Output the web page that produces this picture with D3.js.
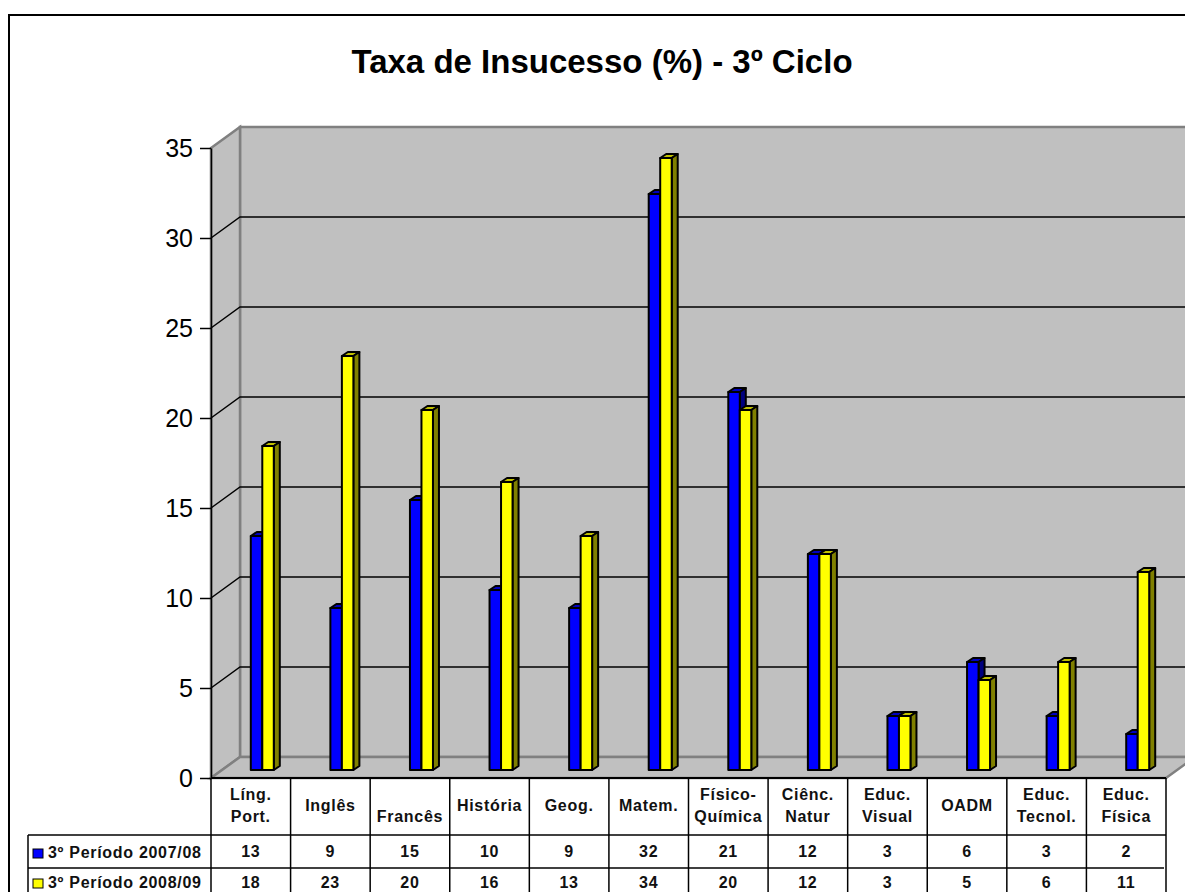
<!DOCTYPE html>
<html>
<head>
<meta charset="utf-8">
<script src="https://cdn.jsdelivr.net/npm/d3@7"></script>
<style>
  body { margin: 0; background: #fff; overflow: hidden; }
  svg { display: block; font-family: "Liberation Sans", Arial, sans-serif; }
</style>
</head>
<body>
<div id="chart"></div>
<script>
// CHART DATA
const categories = ["Líng. Port.", "Inglês", "Francês", "História", "Geog.", "Matem.", "Físico-Química", "Ciênc. Natur", "Educ. Visual", "OADM", "Educ. Tecnol.", "Educ. Física"];
const categoryLines = [["Líng.", "Port."], ["Inglês"], ["", "Francês"], ["História"], ["Geog."], ["Matem."], ["Físico-", "Química"], ["Ciênc.", "Natur"], ["Educ.", "Visual"], ["OADM"], ["Educ.", "Tecnol."], ["Educ.", "Física"]];
const seriesNames = ["3º Período 2007/08", "3º Período 2008/09"];
const values2007 = [13, 9, 15, 10, 9, 32, 21, 12, 3, 6, 3, 2];
const values2008 = [18, 23, 20, 16, 13, 34, 20, 12, 3, 5, 6, 11];
const yTicks = [0, 5, 10, 15, 20, 25, 30, 35];
const titleText = "Taxa de Insucesso (%) - 3º Ciclo";

// PAGE SIZE + 3D OFFSETS
const width = 1185;
const height = 892;
const wallDx = 29;
const wallDy = 21;
const barLift = 8;
const barW = 11.5;
const barDx = 6;
const barDy = 4;

const svg = d3.select("#chart").append("svg")
    .attr("width", width)
    .attr("height", height);

const x = d3.scaleBand().domain(categories).range([211, 1166]);
const y = d3.scaleLinear().domain([0, 35]).range([778, 148]);

// OUTER FRAME (RUNS OFF THE RIGHT AND BOTTOM OF THE PICTURE)
svg.append("rect")
    .attr("x", 9).attr("y", 15)
    .attr("width", 1300).attr("height", 1000)
    .attr("fill", "#fff")
    .attr("stroke", "#000")
    .attr("stroke-width", 2);

svg.append("text")
    .attr("x", 602).attr("y", 73)
    .attr("text-anchor", "middle")
    .attr("font-size", 33)
    .attr("font-weight", "bold")
    .text(titleText);

// WALLS + FLOOR
const x0 = x.range()[0];
const x1 = x.range()[1];
const yTop = y(35);
const yBase = y(0);
const wallStroke = "#808080";

function poly(points, fill) {
  svg.append("polygon")
      .attr("points", points.map(p => p.join(",")).join(" "))
      .attr("fill", fill)
      .attr("stroke", wallStroke)
      .attr("stroke-width", 2.5);
}

poly([[x0 + wallDx, yTop - wallDy], [x1 + wallDx, yTop - wallDy], [x1 + wallDx, yBase - wallDy], [x0 + wallDx, yBase - wallDy]], "#c0c0c0");
poly([[x0, yTop], [x0 + wallDx, yTop - wallDy], [x0 + wallDx, yBase - wallDy], [x0, yBase]], "#c0c0c0");
poly([[x0, yBase], [x0 + wallDx, yBase - wallDy], [x1 + wallDx, yBase - wallDy], [x1, yBase]], "#c0c0c0");

// GRIDLINES ON BOTH WALLS
const gridTicks = yTicks.filter(t => t > 0 && t < 35);
svg.append("g").selectAll("path")
    .data(gridTicks)
    .join("path")
    .attr("d", t => `M${x0},${y(t)}L${x0 + wallDx},${y(t) - wallDy}L${x1 + wallDx},${y(t) - wallDy}`)
    .attr("fill", "none")
    .attr("stroke", "#000")
    .attr("stroke-width", 1.5);

// Y AXIS
const yAxis = svg.append("g")
    .attr("transform", `translate(${x0},0)`)
    .call(d3.axisLeft(y).tickValues(yTicks).tickSize(11).tickSizeOuter(0).tickPadding(7));
yAxis.selectAll("text").attr("font-size", 25).attr("font-family", "inherit").attr("fill", "#000");
yAxis.selectAll("line").attr("stroke", "#000").attr("stroke-width", 1.5);
yAxis.select(".domain").attr("stroke", "#000").attr("stroke-width", 1.5);

// 3D BARS
function drawBars(values, offset, front, top, side) {
  const g = svg.append("g")
      .attr("stroke", "#000")
      .attr("stroke-width", 2)
      .attr("stroke-linejoin", "round");
  const bx = (_, i) => x(categories[i]) + x.bandwidth() / 2 + offset;
  const by = d => y(d) - barLift;
  const bb = y(0) - barLift;

  g.selectAll(".top")
      .data(values)
      .join("polygon")
      .attr("class", "top")
      .attr("fill", top)
      .attr("points", (d, i) => {
        const l = bx(d, i), t = by(d);
        return [[l, t], [l + barDx, t - barDy], [l + barW + barDx, t - barDy], [l + barW, t]].join(" ");
      });
  g.selectAll(".side")
      .data(values)
      .join("polygon")
      .attr("class", "side")
      .attr("fill", side)
      .attr("points", (d, i) => {
        const l = bx(d, i) + barW, t = by(d);
        return [[l, t], [l + barDx, t - barDy], [l + barDx, bb - barDy], [l, bb]].join(" ");
      });
  g.selectAll(".front")
      .data(values)
      .join("rect")
      .attr("class", "front")
      .attr("fill", front)
      .attr("x", bx)
      .attr("y", by)
      .attr("width", barW)
      .attr("height", d => bb - by(d));
}

drawBars(values2007, 0, "#0000ff", "#0000c0", "#000080");
drawBars(values2008, barW, "#ffff00", "#c0c000", "#808000");

// DATA TABLE
const rowTop = yBase;
const rowHead = 835;
const row1 = 868;
const tableLeft = 28;
const tableBottom = 900;
const table = svg.append("g").attr("stroke", "#000").attr("stroke-width", 1.5);

table.append("line").attr("x1", x0).attr("x2", x1).attr("y1", rowTop).attr("y2", rowTop).attr("stroke-width", 2);
table.append("line").attr("x1", tableLeft).attr("x2", x1).attr("y1", rowHead).attr("y2", rowHead);
table.append("line").attr("x1", tableLeft).attr("x2", x1 - 2).attr("y1", row1).attr("y2", row1);
table.append("line").attr("x1", tableLeft).attr("x2", tableLeft).attr("y1", rowHead).attr("y2", tableBottom);
table.selectAll(".col")
    .data(categories.concat("end"))
    .join("line")
    .attr("class", "col")
    .attr("x1", (d, i) => x0 + i * x.step())
    .attr("x2", (d, i) => x0 + i * x.step())
    .attr("y1", rowTop)
    .attr("y2", tableBottom);

// CATEGORY LABELS
const labels = svg.append("g")
    .attr("font-size", 16)
    .attr("font-weight", "bold")
    .attr("letter-spacing", 0.7)
    .attr("fill", "#111")
    .attr("text-anchor", "middle");

categories.forEach((c, i) => {
  const lines = categoryLines[i];
  const cx = x(c) + x.bandwidth() / 2;
  const start = lines.length === 1 ? 811 : 800;
  lines.forEach((line, k) => {
    labels.append("text")
        .attr("x", cx)
        .attr("y", start + k * 22)
        .text(line);
  });
});

// TABLE VALUES
[values2007, values2008].forEach((vals, r) => {
  labels.selectAll(".row" + r)
      .data(vals)
      .join("text")
      .attr("class", "row" + r)
      .attr("x", (d, i) => x(categories[i]) + x.bandwidth() / 2)
      .attr("y", r === 0 ? 857 : 888)
      .text(d => d);
});

// LEGEND KEYS IN THE TABLE
const legendColors = ["#0000ff", "#ffff00"];
const legendY = [849, 879];
seriesNames.forEach((name, i) => {
  svg.append("rect")
      .attr("x", 33).attr("y", legendY[i])
      .attr("width", 10).attr("height", 9)
      .attr("fill", legendColors[i])
      .attr("stroke", "#000");
  svg.append("text")
      .attr("x", 48).attr("y", legendY[i] + 9)
      .attr("font-size", 16)
      .attr("font-weight", "bold")
      .attr("letter-spacing", 0.7)
      .attr("fill", "#111")
      .text(name);
});
</script>
</body>
</html>
